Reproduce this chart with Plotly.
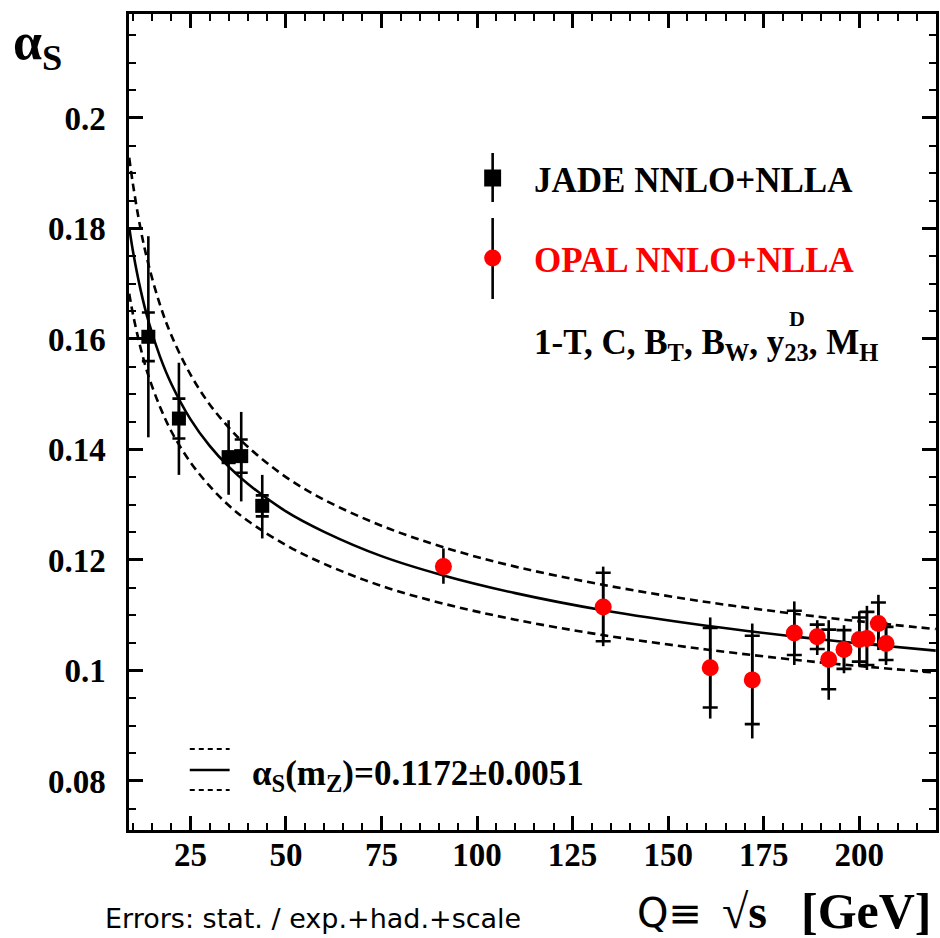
import plotly.graph_objects as go

# ---------------- data ----------------
jade_q = [14.0, 22.0, 35.0, 38.3, 43.8]
jade_as = [0.1604, 0.1456, 0.1386, 0.1388, 0.1298]
jade_stat = [0.0044, 0.0036, 0.0010, 0.0030, 0.0019]
jade_tot_up = [0.0182, 0.0101, 0.0067, 0.0080, 0.0056]
jade_tot_dn = [0.0182, 0.0102, 0.0068, 0.0082, 0.0059]

opal_q = [91.2, 133.0, 161.0, 172.0, 183.0, 189.0, 192.0, 196.0, 200.0, 202.0, 205.0, 207.0]
opal_as = [0.1188, 0.1115, 0.1005, 0.0983, 0.1068, 0.1061, 0.1020, 0.1038, 0.1056, 0.1058, 0.1085, 0.1049]
opal_stat = [0.0003, 0.0062, 0.0072, 0.0080, 0.0040, 0.0022, 0.0054, 0.0035, 0.0040, 0.0048, 0.0038, 0.0030]
opal_tot_up = [0.0033, 0.0073, 0.0091, 0.0102, 0.0057, 0.0030, 0.0071, 0.0044, 0.0051, 0.0059, 0.0052, 0.0039]
opal_tot_dn = [0.0031, 0.0071, 0.0092, 0.0106, 0.0058, 0.0033, 0.0073, 0.0043, 0.0048, 0.0057, 0.0048, 0.0039]

curve_q = [9, 10, 12, 14, 17, 20, 25, 30, 35, 40, 50, 60, 75, 91.2, 110, 133, 160, 185, 200, 220]
curve_central = [0.1802, 0.1758, 0.1688, 0.1633, 0.1569, 0.1519, 0.1455, 0.1407, 0.1369, 0.1338,
                 0.1288, 0.1251, 0.1207, 0.1172, 0.1140, 0.1109, 0.1081, 0.1060, 0.1049, 0.1036]
curve_upper = [0.1928, 0.1879, 0.1798, 0.1736, 0.1663, 0.1607, 0.1536, 0.1482, 0.1440, 0.1405,
               0.1350, 0.1309, 0.1262, 0.1223, 0.1188, 0.1155, 0.1124, 0.1101, 0.1089, 0.1075]
curve_lower = [0.1682, 0.1644, 0.1583, 0.1534, 0.1478, 0.1433, 0.1377, 0.1334, 0.1299, 0.1271,
               0.1227, 0.1193, 0.1153, 0.1121, 0.1092, 0.1064, 0.1038, 0.1018, 0.1008, 0.0996]

x_tick_vals = [25, 50, 75, 100, 125, 150, 175, 200]
x_tick_text = ["25", "50", "75", "100", "125", "150", "175", "200"]
y_tick_vals = [0.08, 0.10, 0.12, 0.14, 0.16, 0.18, 0.20]
y_tick_text = ["0.08", "0.1", "0.12", "0.14", "0.16", "0.18", "0.2"]

# ---------------- layout helpers ----------------
W, H = 940, 938
L, R, T, B = 129, 1, 14, 108
PW, PH = W - L - R, H - T - B


def fx(px):
    return (px - L) / PW


def fy(py):
    return (H - B - py) / PH


SERIF = "Liberation Serif, Times New Roman, serif"
RED = "#ff0000"

fig = go.Figure()

# curves
fig.add_trace(go.Scatter(x=curve_q, y=curve_upper, mode="lines", line=dict(color="black", width=2.6, dash="8px,5px", shape="spline"), hoverinfo="skip"))
fig.add_trace(go.Scatter(x=curve_q, y=curve_lower, mode="lines", line=dict(color="black", width=2.6, dash="8px,5px", shape="spline"), hoverinfo="skip"))
fig.add_trace(go.Scatter(x=curve_q, y=curve_central, mode="lines", line=dict(color="black", width=2.6, shape="spline"), hoverinfo="skip"))

invisible = dict(size=1, color="rgba(0,0,0,0)")

# total error bars
for q, a, up, dn in [(jade_q, jade_as, jade_tot_up, jade_tot_dn), (opal_q, opal_as, opal_tot_up, opal_tot_dn)]:
    fig.add_trace(go.Scatter(x=q, y=a, mode="markers", marker=invisible,
                             error_y=dict(type="data", symmetric=False, array=up, arrayminus=dn,
                                          color="black", thickness=2.6, width=0)))
# stat error crossbars
fig.add_trace(go.Scatter(x=jade_q, y=jade_as, mode="markers", marker=invisible,
                         error_y=dict(type="data", array=jade_stat, color="black", thickness=2.6, width=6.5)))
fig.add_trace(go.Scatter(x=opal_q, y=opal_as, mode="markers", marker=invisible,
                         error_y=dict(type="data", array=opal_stat, color="black", thickness=2.6, width=7.5)))

# markers
fig.add_trace(go.Scatter(x=jade_q, y=jade_as, mode="markers",
                         marker=dict(symbol="square", size=14, color="black", line=dict(width=0))))
fig.add_trace(go.Scatter(x=opal_q, y=opal_as, mode="markers",
                         marker=dict(symbol="circle", size=17, color=RED, line=dict(width=0))))

axis_common = dict(showline=True, linewidth=2.5, linecolor="black", mirror="ticks",
                   ticks="inside", ticklen=14, tickwidth=2.5, tickcolor="black",
                   showgrid=False, zeroline=False,
                   tickfont=dict(family=SERIF, size=33, color="black", weight="bold"))

fig.update_xaxes(range=[8.94, 220.07], tickmode="array", tickvals=x_tick_vals, ticktext=x_tick_text,
                 ticklabelstandoff=-6,
                 minor=dict(tickmode="linear", tick0=0, dtick=5, ticks="inside", ticklen=7,
                            tickwidth=2, tickcolor="black", showgrid=False),
                 **axis_common)
fig.update_yaxes(range=[0.07113, 0.21882], tickmode="array", tickvals=y_tick_vals, ticktext=y_tick_text,
                 ticklabelstandoff=14,
                 minor=dict(tickmode="linear", tick0=0, dtick=0.005, ticks="inside", ticklen=7,
                            tickwidth=2, tickcolor="black", showgrid=False),
                 **axis_common)

shapes = []
# legend: JADE
shapes.append(dict(type="line", xref="paper", yref="paper", x0=fx(494), x1=fx(494), y0=fy(153), y1=fy(202),
                   line=dict(color="black", width=2.6)))
shapes.append(dict(type="rect", xref="paper", yref="paper", x0=fx(485.5), x1=fx(502.5), y0=fy(169.5), y1=fy(186.5),
                   fillcolor="black", line=dict(width=0)))
# legend: OPAL
shapes.append(dict(type="line", xref="paper", yref="paper", x0=fx(494), x1=fx(494), y0=fy(218), y1=fy(299),
                   line=dict(color="black", width=2.6)))
shapes.append(dict(type="circle", xref="paper", yref="paper", x0=fx(485.5), x1=fx(502.5), y0=fy(249.5), y1=fy(266.5),
                   fillcolor=RED, line=dict(width=0)))
# legend: curves
for py, dash, wdt in [(749, "5px,4px", 2), (770, "solid", 2.6), (790, "5px,4px", 2)]:
    shapes.append(dict(type="line", xref="paper", yref="paper", x0=fx(190), x1=fx(230), y0=fy(py), y1=fy(py),
                       line=dict(color="black", width=wdt, dash=dash)))

annotations = []


def ann(text, px, py, size, color="black", family=SERIF, weight="bold", xanchor="left", yanchor="middle"):
    annotations.append(dict(text=text, xref="paper", yref="paper", x=fx(px), y=fy(py), showarrow=False,
                            xanchor=xanchor, yanchor=yanchor,
                            font=dict(family=family, size=size, color=color, weight=weight)))


ann("JADE NNLO+NLLA", 533, 180, 35)
ann("OPAL NNLO+NLLA", 533, 260, 35, color=RED)
ann("1-T, C, B<sub>T</sub>, B<sub>W</sub>, y<sub>23</sub>, M<sub>H</sub>", 533, 344, 35)
ann("D", 799, 318, 22, xanchor="center")
ann("α<sub>S</sub>(m<sub>Z</sub>)=0.1172±0.0051", 250, 775, 35)
ann("α<sub>S</sub>", 11, 46, 52, weight="bold")
ann("Errors: stat. / exp.+had.+scale", 103, 918, 27,
    family="DejaVu Sans, sans-serif", weight="normal")
ann("Q≡", 637, 913, 40, family="DejaVu Sans, Liberation Sans, sans-serif", weight="normal")
ann("√s", 722, 911, 48)
ann("[GeV]", 937, 911, 50, xanchor="right")

fig.update_layout(width=W, height=H, margin=dict(l=L, r=R, t=T, b=B, pad=0),
                  paper_bgcolor="white", plot_bgcolor="white", showlegend=False,
                  shapes=shapes, annotations=annotations)

fig.write_html("out.html")
